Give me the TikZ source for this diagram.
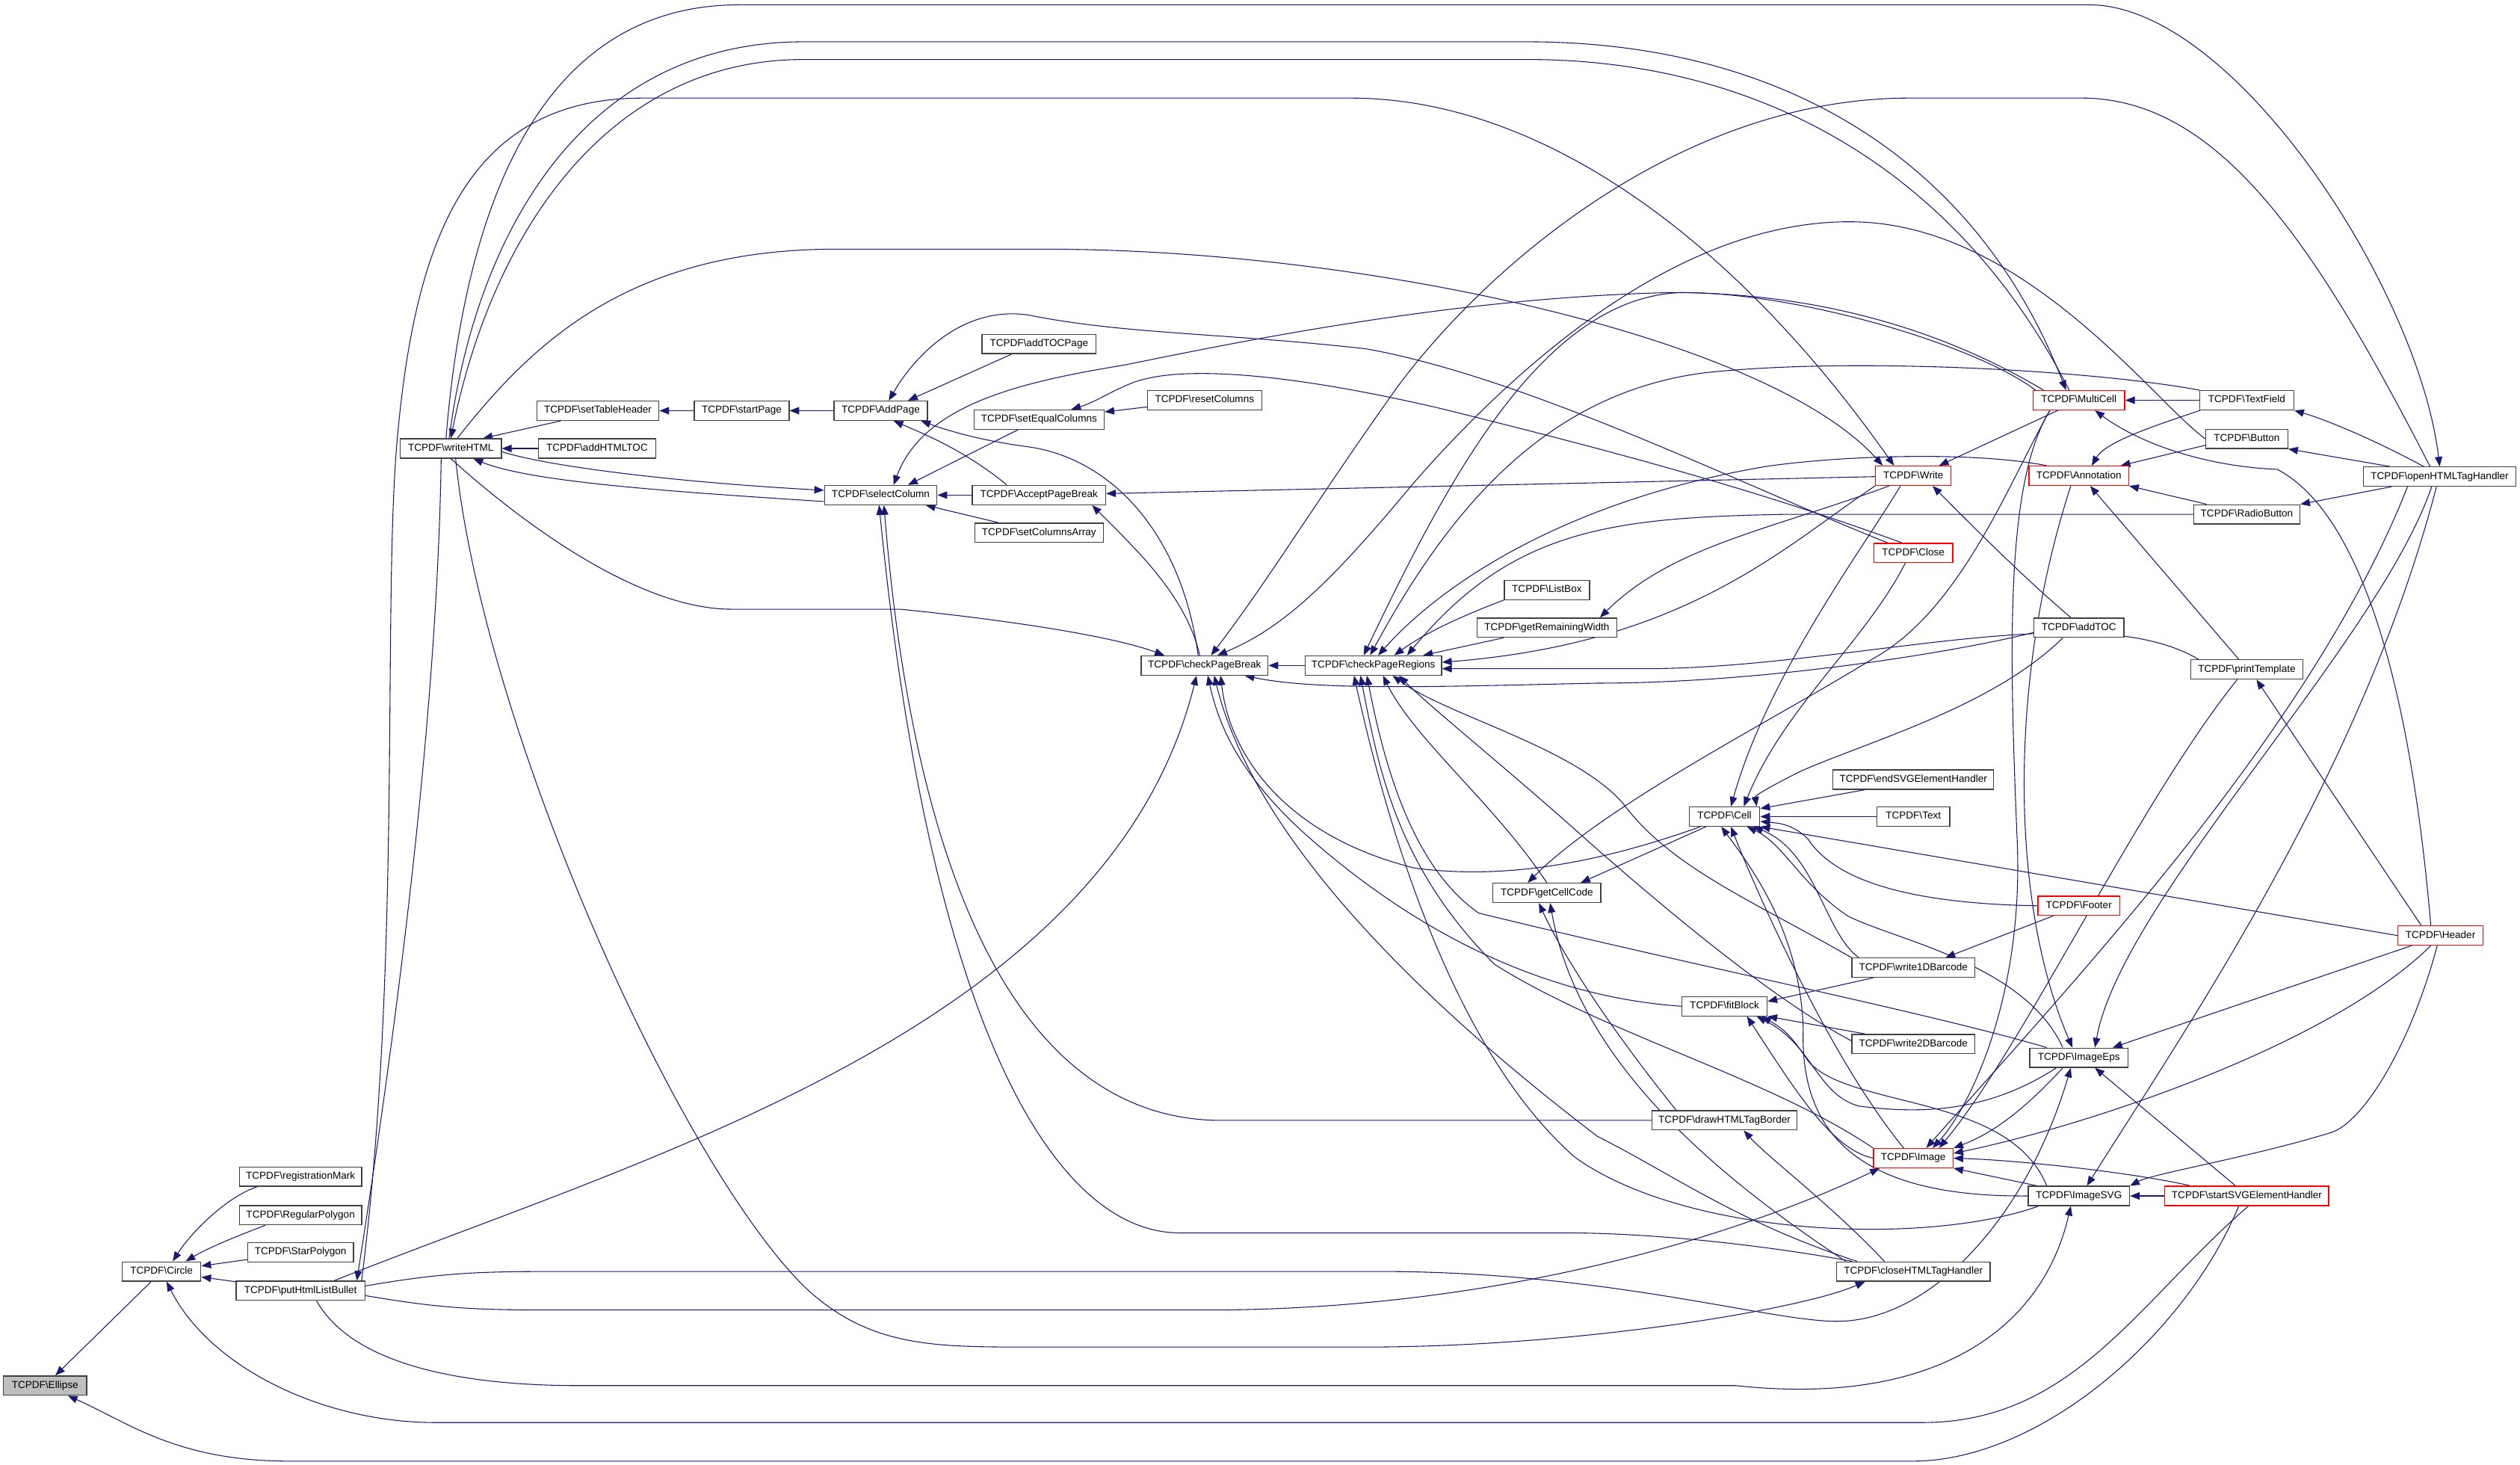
\documentclass[tikz,border=0pt]{standalone}
\usepackage{fontspec}
\setmainfont{Liberation Sans}
\usetikzlibrary{arrows.meta}
\usetikzlibrary{backgrounds}
\definecolor{edgeblue}{RGB}{25,25,112}
\newcommand{\tc}[1]{TCPDF\textbackslash #1}
\tikzset{>={Triangle[length=6pt,width=4.6pt]}}
\tikzset{fn/.style = {draw=black!75, fill=white, line width=0.6pt, inner sep=0pt, minimum height=12pt, text height=4.6pt, text depth=1.4pt, font=\fontsize{6.3}{7}\selectfont}}
\tikzset{fnred/.style = {fn, draw=red}}
\tikzset{fnme/.style = {fn, fill=black!25}}
\tikzset{call/.style = {->, draw=edgeblue, line width=0.5pt}}

\begin{document}
\begin{tikzpicture}[x=1pt, y=-1pt]
                    \useasboundingbox (0,0) rectangle (1568,911);

                    \node[fnme, minimum width=52pt] (Ellipse) at (28,862) {\tc{Ellipse}};
                    \node[fn, minimum width=49pt] (Circle) at (100.5,791) {\tc{Circle}};
                    \node[fn, minimum width=76pt] (RegMark) at (187,732) {\tc{registrationMark}};
                    \node[fn, minimum width=76pt] (RegPoly) at (187,756) {\tc{RegularPolygon}};
                    \node[fn, minimum width=66pt] (StarPoly) at (187,779) {\tc{StarPolygon}};
                    \node[fn, minimum width=80pt] (ListBullet) at (187,803) {\tc{putHtmlListBullet}};
                    \node[fn, minimum width=63pt] (WriteHTML) at (280.5,279) {\tc{writeHTML}};
                    \node[fn, minimum width=76pt] (TableHeader) at (372,255.5) {\tc{setTableHeader}};
                    \node[fn, minimum width=73pt] (HTMLTOC) at (371.5,279) {\tc{addHTMLTOC}};
                    \node[fn, minimum width=59pt] (StartPage) at (461.5,255.5) {\tc{startPage}};
                    \node[fn, minimum width=58pt] (AddPage) at (548,255.5) {\tc{AddPage}};
                    \node[fn, minimum width=71pt] (TOCPage) at (646.5,214) {\tc{addTOCPage}};
                    \node[fn, minimum width=81pt] (EqualCols) at (646.5,261) {\tc{setEqualColumns}};
                    \node[fn, minimum width=71pt] (ResetCols) at (749.5,249) {\tc{resetColumns}};
                    \node[fn, minimum width=70pt] (SelectCol) at (548,308) {\tc{selectColumn}};
                    \node[fn, minimum width=83pt] (AcceptPB) at (646.5,308) {\tc{AcceptPageBreak}};
                    \node[fn, minimum width=80pt] (ColsArray) at (646.5,331.5) {\tc{setColumnsArray}};
                    \node[fn, minimum width=79pt] (CheckPB) at (749.5,414) {\tc{checkPageBreak}};
                    \node[fn, minimum width=85pt] (CheckPR) at (854.5,414) {\tc{checkPageRegions}};
                    \node[fn, minimum width=53pt] (ListBox) at (962.5,367) {\tc{ListBox}};
                    \node[fn, minimum width=87pt] (RemWidth) at (962.5,390.5) {\tc{getRemainingWidth}};
                    \node[fnred, minimum width=47pt] (Write) at (1190.5,296) {\tc{Write}};
                    \node[fnred, minimum width=57pt] (MultiCell) at (1293.5,249) {\tc{MultiCell}};
                    \node[fnred, minimum width=62pt] (Annotation) at (1293.5,296) {\tc{Annotation}};
                    \node[fnred, minimum width=49pt] (Close) at (1190.5,344) {\tc{Close}};
                    \node[fn, minimum width=56pt] (AddTOC) at (1293.5,390.5) {\tc{addTOC}};
                    \node[fn, minimum width=58.5pt] (TextField) at (1398,249) {\tc{TextField}};
                    \node[fn, minimum width=51pt] (Button) at (1398,273) {\tc{Button}};
                    \node[fn, minimum width=66pt] (RadioButton) at (1398,320) {\tc{RadioButton}};
                    \node[fn, minimum width=95pt] (OpenTag) at (1518,296.5) {\tc{openHTMLTagHandler}};
                    \node[fn, minimum width=70pt] (PrintTpl) at (1398,416.5) {\tc{printTemplate}};
                    \node[fn, minimum width=44pt] (Cell) at (1073,508) {\tc{Cell}};
                    \node[fn, minimum width=100pt] (EndSVG) at (1190.5,485) {\tc{endSVGElementHandler}};
                    \node[fn, minimum width=45.5pt] (Text) at (1190.5,508) {\tc{Text}};
                    \node[fnred, minimum width=51pt] (Footer) at (1293.5,563.5) {\tc{Footer}};
                    \node[fnred, minimum width=53pt] (Header) at (1518.5,582) {\tc{Header}};
                    \node[fn, minimum width=67pt] (CellCode) at (962.5,555.5) {\tc{getCellCode}};
                    \node[fn, minimum width=76.5pt] (Bar1D) at (1190.5,602) {\tc{write1DBarcode}};
                    \node[fn, minimum width=53pt] (FitBlock) at (1073,626) {\tc{fitBlock}};
                    \node[fn, minimum width=76.5pt] (Bar2D) at (1190.5,649.5) {\tc{write2DBarcode}};
                    \node[fn, minimum width=61pt] (ImageEps) at (1293.5,658) {\tc{ImageEps}};
                    \node[fn, minimum width=90pt] (TagBorder) at (1073,697) {\tc{drawHTMLTagBorder}};
                    \node[fnred, minimum width=49.5pt] (Image) at (1190.5,720.5) {\tc{Image}};
                    \node[fn, minimum width=63pt] (ImageSVG) at (1293.5,744) {\tc{ImageSVG}};
                    \node[fnred, minimum width=102pt] (StartSVG) at (1398,744) {\tc{startSVGElementHandler}};
                    \node[fn, minimum width=95.5pt] (CloseTag) at (1190.5,791) {\tc{closeHTMLTagHandler}};

                    \begin{scope}[on background layer]
                    \draw[call] (Circle) -- (Ellipse);
                    \draw[call] ([xshift=-5pt]StartSVG.south) .. controls (1360,830) and (1270,909) .. (1190,909) -- (180,909) .. controls (110,909) and (80,885) .. (Ellipse);
                    \draw[call] ([xshift=-27pt]RegMark.south) .. controls (140,745) and (118,768) .. ([xshift=7pt]Circle.north);
                    \draw[call] ([xshift=-22pt]RegPoly.south) .. controls (150,768) and (130,776) .. ([xshift=15pt]Circle.north);
                    \draw[call] (StarPoly) -- (Circle);
                    \draw[call] (ListBullet) -- (Circle);
                    \draw[call] ([xshift=1pt]StartSVG.south) .. controls (1330,810) and (1290,885) .. (1196,885) -- (271,885) .. controls (200,885) and (130,850) .. (Circle);

                    \draw[call] ([xshift=-6pt]WriteHTML.south) .. controls (272,450) and (245,650) .. ([xshift=35pt]ListBullet.north);
                    \draw[call] ([xshift=38pt]ListBullet.north) .. controls (250,600) and (238,380) .. (247,275) .. controls (258,150) and (290,61) .. (400,61) -- (840,61) .. controls (960,61) and (1080,150) .. ([xshift=-12pt]Write.north);
                    \draw[call] ([xshift=21pt]ListBullet.north) .. controls (400,720) and (690,640) .. ([xshift=-5pt]CheckPB.south);
                    \draw[call] ([yshift=-3pt]ListBullet.east) .. controls (280,815) and (300,815) .. (360,815) -- (750,815) .. controls (950,815) and (1100,760) .. ([xshift=-21pt]Image.south);
                    \draw[call] ([yshift=3pt]ListBullet.east) .. controls (280,791) and (300,791) .. (360,791) -- (858,791) .. controls (1000,791) and (1100,822) .. (1143,822) .. controls (1200,822) and (1260,760) .. ([xshift=-5pt]ImageEps.south);
                    \draw[call] ([xshift=10pt]ListBullet.south) .. controls (220,850) and (290,862) .. (360,862) -- (1080,862) .. controls (1200,875) and (1270,830) .. ([xshift=-5pt]ImageSVG.south);

                    \draw[call] ([xshift=-23pt]TableHeader.south) -- ([xshift=20pt]WriteHTML.north);
                    \draw[call] (HTMLTOC) -- (WriteHTML);
                    \draw[call] ([yshift=-2pt]WriteHTML.east) .. controls (340,290) and (420,300) .. ([yshift=3pt]SelectCol.west);
                    \draw[call] ([yshift=-4pt]SelectCol.west) .. controls (420,306) and (330,300) .. ([xshift=14pt]WriteHTML.south);
                    \draw[call] (WriteHTML.south) .. controls (330,330) and (400,379) .. (455,379) -- (560,379) .. controls (620,385) and (690,395) .. ([xshift=-25pt]CheckPB.north);
                    \draw[call] ([xshift=3pt]WriteHTML.south) .. controls (300,450) and (420,720) .. (500,800) .. controls (540,838) and (580,838) .. (640,838) -- (850,838) .. controls (980,838) and (1120,815) .. ([xshift=-30pt]CloseTag.south);
                    \draw[call] ([xshift=4pt]WriteHTML.north) .. controls (330,215) and (390,155) .. (520,155) -- (650,155) .. controls (850,155) and (1100,210) .. ([xshift=-19pt]Write.north);
                    \draw[call] ([xshift=-1pt]WriteHTML.north) .. controls (295,150) and (360,26) .. (500,26) -- (950,26) .. controls (1110,26) and (1230,100) .. ([xshift=-8pt]MultiCell.north);
                    \draw[call] ([xshift=-6pt]MultiCell.north) .. controls (1220,110) and (1100,37) .. (950,37) -- (500,37) .. controls (375,37) and (305,150) .. (WriteHTML.north);
                    \draw[call] ([xshift=-3pt]WriteHTML.north) .. controls (290,120) and (340,3) .. (460,3) -- (1300,3) .. controls (1390,3) and (1505,180) .. (OpenTag.north);

                    \draw[call] (StartPage) -- (TableHeader);
                    \draw[call] (AddPage) -- (StartPage);
                    \draw[call] ([xshift=-17pt]TOCPage.south) -- ([xshift=17pt]AddPage.north);
                    \draw[call] ([xshift=-20pt]AcceptPB.north) .. controls (600,280) and (575,270) .. ([xshift=8pt]AddPage.south);
                    \draw[call] ([xshift=-4pt]CheckPB.north) .. controls (735,330) and (690,285) .. (640,278) .. controls (610,274) and (590,268) .. ([xshift=25pt]AddPage.south);
                    \draw[call] ([xshift=-16pt]Close.north) .. controls (1080,300) and (950,235) .. (850,217) .. controls (760,207) and (700,208) .. (640,196) .. controls (600,190) and (570,220) .. ([xshift=5pt]AddPage.north);
                    \draw[call] ([xshift=-13pt]EqualCols.south) -- ([xshift=17pt]SelectCol.north);
                    \draw[call] (ResetCols) -- (EqualCols);
                    \draw[call] ([xshift=-7pt]Close.north) .. controls (1080,300) and (980,275) .. (900,255) .. controls (820,236) and (740,225) .. (705,238) .. controls (690,244) and (682,250) .. ([xshift=20pt]EqualCols.north);
                    \draw[call] (AcceptPB) -- (SelectCol);
                    \draw[call] ([xshift=-25pt]ColsArray.north) -- ([xshift=28pt]SelectCol.south);
                    \draw[call] ([xshift=-3pt]CheckPB.north) .. controls (738,370) and (705,340) .. ([xshift=33pt]AcceptPB.south);
                    \draw[call] (Write) -- (AcceptPB);
                    \draw[call] ([xshift=-22pt]MultiCell.north) .. controls (1200,200) and (1120,182) .. (1040,182) .. controls (900,185) and (760,215) .. (700,227) .. controls (640,237) and (575,250) .. ([xshift=8pt]SelectCol.north);
                    \draw[call] (TagBorder.west) -- (760,697) .. controls (640,697) and (570,560) .. ([xshift=2pt]SelectCol.south);
                    \draw[call] ([xshift=-38pt]CloseTag.north) .. controls (1100,775) and (1030,767) .. (974,767) -- (734,767) .. controls (660,767) and (580,650) .. ([xshift=-1pt]SelectCol.south);

                    \draw[call] (CheckPR) -- (CheckPB);
                    \draw[call] ([xshift=-6pt]OpenTag.north) .. controls (1440,150) and (1380,61) .. (1295,61) -- (1188,61) .. controls (1050,61) and (930,160) .. (870,240) .. controls (820,310) and (790,360) .. ([xshift=4pt]CheckPB.north);
                    \draw[call] (Button.west) .. controls (1340,250) and (1260,140) .. (1154,138) .. controls (1050,136) and (950,220) .. (880,300) .. controls (830,360) and (800,390) .. ([xshift=8pt]CheckPB.north);
                    \draw[call] (FitBlock.west) .. controls (960,620) and (880,580) .. (810,517) .. controls (770,480) and (758,450) .. ([xshift=2pt]CheckPB.south);
                    \draw[call] ([xshift=-35pt]CloseTag.north) .. controls (1080,760) and (1040,730) .. (994,707) .. controls (880,620) and (780,520) .. ([xshift=6pt]CheckPB.south);
                    \draw[call] ([xshift=-15pt]Cell.south) .. controls (1000,535) and (940,548) .. (880,540) .. controls (800,520) and (765,470) .. ([xshift=10pt]CheckPB.south);
                    \draw[call] ([yshift=-3pt]AddTOC.west) .. controls (1220,405) and (1100,425) .. (994,425) .. controls (900,427) and (820,430) .. ([xshift=25pt]CheckPB.south);

                    \draw[call] (ListBox.south west) .. controls (905,385) and (885,395) .. ([xshift=13pt]CheckPR.north);
                    \draw[call] ([xshift=-27pt]RemWidth.south) -- ([xshift=31pt]CheckPR.north);
                    \draw[call] ([xshift=-15pt]Write.south) .. controls (1100,330) and (1040,340) .. ([xshift=33pt]RemWidth.north);
                    \draw[call] ([xshift=-27pt]MultiCell.north) .. controls (1230,215) and (1120,182) .. (1047,182) .. controls (960,184) and (900,300) .. ([xshift=-6pt]CheckPR.north);
                    \draw[call] (TextField.north west) .. controls (1300,230) and (1150,222) .. (1060,232) .. controls (960,245) and (900,320) .. ([xshift=-2pt]CheckPR.north);
                    \draw[call] ([xshift=-20pt]Annotation.north) .. controls (1230,281) and (1150,283) .. (1100,290) .. controls (980,310) and (900,360) .. ([xshift=3pt]CheckPR.north);
                    \draw[call] (Write.south west) .. controls (1110,340) and (1050,400) .. ([yshift=2pt]CheckPR.east);
                    \draw[call] (RadioButton.west) -- (1110,320) .. controls (1000,322) and (940,330) .. ([xshift=21pt]CheckPR.north);
                    \draw[call] ([xshift=-30pt]PrintTpl.north) .. controls (1300,370) and (1150,416) .. (1023,416) -- ([yshift=-2pt]CheckPR.east);
                    \draw[call] (CellCode.north) .. controls (930,500) and (880,460) .. ([xshift=6pt]CheckPR.south);
                    \draw[call] (Bar1D.north west) .. controls (1090,560) and (1040,540) .. (1010,500) .. controls (980,465) and (900,445) .. ([xshift=12pt]CheckPR.south);
                    \draw[call] ([yshift=2pt]Bar2D.west) .. controls (1100,620) and (1030,560) .. (990,525) .. controls (940,480) and (890,440) .. ([xshift=16pt]CheckPR.south);
                    \draw[call] ([xshift=-20pt]ImageEps.north) .. controls (1200,630) and (1050,600) .. (920,568) .. controls (880,540) and (862,480) .. ([xshift=-4pt]CheckPR.south);
                    \draw[call] (Image.north west) .. controls (1100,670) and (1000,644) .. (930,600) .. controls (870,540) and (858,480) .. ([xshift=-8pt]CheckPR.south);
                    \draw[call] ([xshift=-25pt]ImageSVG.south) .. controls (1200,775) and (1050,770) .. (980,720) .. controls (900,650) and (860,500) .. ([xshift=-12pt]CheckPR.south);

                    \draw[call] ([xshift=-8pt]Write.south) .. controls (1160,340) and (1100,420) .. ([xshift=4pt]Cell.north);
                    \draw[call] ([xshift=-5pt]Close.south) .. controls (1160,400) and (1110,440) .. ([xshift=12pt]Cell.north);
                    \draw[call] ([xshift=-10pt]AddTOC.south) .. controls (1240,440) and (1160,462) .. (1120,480) .. controls (1100,490) and (1092,495) .. ([xshift=20pt]Cell.north);
                    \draw[call] ([xshift=-30pt]EndSVG.south) -- ([yshift=5pt]Cell.east);
                    \draw[call] (Text) -- (Cell);
                    \draw[call] (Header.west) -- (Cell.south east);
                    \draw[call] (Footer.west) .. controls (1180,562) and (1140,545) .. (1125,522) .. controls (1115,512) and (1105,512) .. ([yshift=-3pt]Cell.east);
                    \draw[call] ([xshift=-34pt]Bar1D.north) .. controls (1135,580) and (1130,530) .. ([xshift=18pt]Cell.south);
                    \draw[call] ([xshift=-10pt]ImageEps.north) .. controls (1260,600) and (1180,585) .. (1150,570) .. controls (1120,550) and (1110,525) .. ([xshift=14pt]Cell.south);
                    \draw[call] ([xshift=-6pt]Image.north) .. controls (1140,660) and (1095,560) .. ([xshift=4pt]Cell.south);
                    \draw[call] (ImageSVG.west) .. controls (1150,745) and (1120,700) .. (1122,640) .. controls (1120,580) and (1090,540) .. ([xshift=-2pt]Cell.south);
                    \draw[call] ([xshift=-11.5pt]Cell.south) -- ([xshift=21pt]CellCode.north);
                    \draw[call] ([xshift=-18pt]MultiCell.south) .. controls (1250,300) and (1220,380) .. (1165,410) .. controls (1100,450) and (1000,500) .. ([xshift=-12pt]CellCode.north);
                    \draw[call] ([xshift=-16pt]Footer.south) -- ([xshift=20pt]Bar1D.north);

                    \draw[call] ([xshift=-25pt]Bar1D.south) -- ([yshift=3pt]FitBlock.east);
                    \draw[call] ([xshift=-30pt]Bar2D.north) -- (FitBlock.south east);
                    \draw[call] ([xshift=-14pt]ImageEps.south) .. controls (1240,690) and (1200,694) .. (1156,688) .. controls (1130,680) and (1128,650) .. ([xshift=20pt]FitBlock.south);
                    \draw[call] (Image.west) .. controls (1140,715) and (1118,680) .. ([xshift=14pt]FitBlock.south);
                    \draw[call] ([xshift=-20pt]ImageSVG.north) .. controls (1250,680) and (1150,690) .. (1125,660) .. controls (1115,645) and (1110,640) .. ([xshift=23pt]FitBlock.south);

                    \draw[call] ([xshift=-18pt]MultiCell.south) .. controls (1248,300) and (1250,400) .. (1255,520) .. controls (1260,620) and (1225,690) .. ([xshift=12pt]Image.north);
                    \draw[call] ([xshift=-6pt]PrintTpl.south) .. controls (1330,500) and (1260,650) .. ([xshift=16pt]Image.north);
                    \draw[call] ([xshift=-10pt]ImageEps.south) .. controls (1260,690) and (1240,705) .. (Image.north east);
                    \draw[call] ([xshift=-6pt]Header.south) .. controls (1450,650) and (1300,700) .. ([yshift=3pt]Image.east);
                    \draw[call] ([xshift=-35pt]StartSVG.north) .. controls (1330,730) and (1260,722) .. (Image.east);
                    \draw[call] ([xshift=-26pt]ImageSVG.north) -- (Image.south east);
                    \draw[call] ([xshift=-20pt]OpenTag.south) .. controls (1440,450) and (1300,600) .. ([xshift=8pt]Image.north);

                    \draw[call] ([xshift=-18pt]Header.south) -- ([xshift=21pt]ImageEps.north);
                    \draw[call] ([xshift=-5pt]OpenTag.south) .. controls (1480,400) and (1320,560) .. ([xshift=10pt]ImageEps.north);
                    \draw[call] ([xshift=-7pt]StartSVG.north) -- ([xshift=10pt]ImageEps.south);
                    \draw[call] ([xshift=-5pt]Annotation.south) .. controls (1250,420) and (1250,560) .. ([xshift=-4pt]ImageEps.north);
                    \draw[call] (StartSVG) -- (ImageSVG);
                    \draw[call] ([xshift=-2pt]OpenTag.south) .. controls (1470,480) and (1360,640) .. ([xshift=5pt]ImageSVG.north);
                    \draw[call] ([xshift=-2pt]Header.south) .. controls (1500,650) and (1470,700) .. (1449,705) .. controls (1400,720) and (1340,730) .. (ImageSVG.north east);

                    \draw[call] ([xshift=-18pt]CloseTag.north) .. controls (1140,750) and (1100,720) .. ([xshift=12pt]TagBorder.south);
                    \draw[call] ([xshift=-30pt]TagBorder.north) .. controls (1010,650) and (975,600) .. ([xshift=-5pt]CellCode.south);
                    \draw[call] ([xshift=-42pt]CloseTag.north) .. controls (1050,720) and (980,650) .. ([xshift=2pt]CellCode.south);

                    \draw[call] (TextField) -- (MultiCell);
                    \draw[call] ([xshift=-6pt]Header.north) .. controls (1500,430) and (1470,320) .. (1417,292) .. controls (1370,290) and (1330,275) .. ([xshift=10pt]MultiCell.south);
                    \draw[call] ([xshift=-12pt]Header.north) -- ([xshift=6pt]PrintTpl.south);
                    \draw[call] ([xshift=-5pt]PrintTpl.north) -- ([xshift=7pt]Annotation.south);
                    \draw[call] ([xshift=-29pt]TextField.south) .. controls (1340,265) and (1310,275) .. ([xshift=8pt]Annotation.north);
                    \draw[call] ([yshift=-4pt]Button.west) -- ([xshift=26pt]Annotation.north);
                    \draw[call] ([xshift=-25pt]RadioButton.north) -- (Annotation.south east);
                    \draw[call] ([xshift=-10pt]OpenTag.north) .. controls (1480,275) and (1450,262) .. (TextField.south east);
                    \draw[call] ([xshift=-31pt]OpenTag.north) -- (Button.south east);
                    \draw[call] ([xshift=-30pt]OpenTag.south) -- (RadioButton.north east);
                    \draw[call] ([xshift=-13pt]MultiCell.south) -- ([xshift=16pt]Write.north);
                    \draw[call] ([xshift=-5pt]AddTOC.north) .. controls (1260,360) and (1230,330) .. ([xshift=12pt]Write.south);
                    \end{scope}
\end{tikzpicture}
\end{document}
